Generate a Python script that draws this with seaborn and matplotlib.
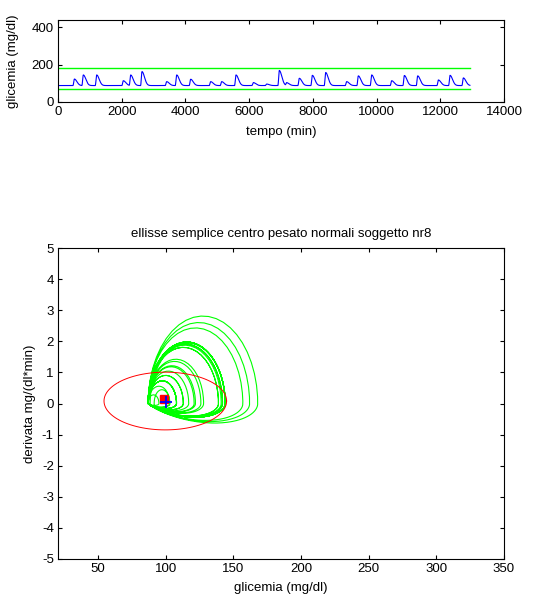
import numpy as np
import pandas as pd
import matplotlib
matplotlib.use("Agg")
import matplotlib.pyplot as plt
import seaborn as sns

# Meal excursions of subject nr8: time of each glucose peak (min) and peak value (mg/dl)
peak_time = [515, 795, 1214, 2050, 2281, 2637, 3411, 3725, 4164, 4792, 5137, 5587,
             6131, 6550, 6947, 7178, 7575, 7983, 8402, 9061, 9427, 9846, 10474,
             10872, 11291, 11940, 12306, 12724]
peak_glucose = [122, 144, 144, 113, 144, 162, 108, 144, 121, 108, 108, 144,
                103, 95, 168, 103, 126, 142, 157, 108, 139, 144, 113,
                141, 139, 117, 142, 128]
basal_glucose = 87          # mg/dl between meals
rise_time = 45              # min from onset to peak
decay_time = 78             # min, post-peak decay scale
sample_step = 2             # min
record_end = 12930          # min

# Normoglycaemic band
hypo_limit = 70
hyper_limit = 180

# Simple ellipse and its centres in the (glucose, derivative) plane
ellipse_center = (99.7, 0.08)
ellipse_semi_axes = (45.3, 0.93)
weighted_center = (98.5, 0.14)
mean_point = (100.4, 0.05)


def excursion(dt):
    """Unit-height meal response; dt = time relative to the peak."""
    out = np.zeros_like(dt, dtype=float)
    rising = (dt > -rise_time) & (dt <= 0)
    out[rising] = np.sin(0.5 * np.pi * (dt[rising] + rise_time) / rise_time) ** 2
    falling = dt > 0
    out[falling] = np.exp(-0.5 * (dt[falling] / decay_time) ** 2)
    return out


t = np.arange(0, record_end + sample_step, sample_step, dtype=float)
glucose = np.full_like(t, basal_glucose)
for tp, gp in zip(peak_time, peak_glucose):
    level = np.interp(tp, t, glucose)
    glucose = glucose + (gp - level) * excursion(t - tp)
derivative = np.gradient(glucose, t)

series = pd.DataFrame({"tempo": t, "glicemia": glucose, "derivata": derivative})

theta = np.linspace(0, 2 * np.pi, 120)
ellipse = pd.DataFrame({
    "x": ellipse_center[0] + ellipse_semi_axes[0] * np.cos(theta),
    "y": ellipse_center[1] + ellipse_semi_axes[1] * np.sin(theta),
})

plt.rcParams["font.family"] = ["Liberation Sans", "DejaVu Sans"]
plt.rcParams["font.size"] = 9.5
plt.rcParams["axes.unicode_minus"] = False

W, H = 548, 594
fig = plt.figure(figsize=(W / 100, H / 100), dpi=100)
left, right = 58 / W, 504 / W
ax1 = fig.add_axes([left, 1 - 101.7 / H, right - left, (101.7 - 20) / H])
ax2 = fig.add_axes([left, 1 - 558.7 / H, right - left, (558.7 - 248.3) / H])

# --- glucose time series ---
band = pd.DataFrame({"tempo": [0, record_end]})
sns.lineplot(x=band["tempo"], y=[hyper_limit, hyper_limit], ax=ax1, color=(0, 1, 0), lw=1)
sns.lineplot(x=band["tempo"], y=[hypo_limit, hypo_limit], ax=ax1, color=(0, 1, 0), lw=1)
sns.lineplot(data=series, x="tempo", y="glicemia", ax=ax1, color=(0, 0, 1), lw=0.8,
             estimator=None, sort=False)
ax1.set_xlim(0, 14000)
ax1.set_ylim(0, 440)
ax1.set_xticks(np.arange(0, 14001, 2000))
ax1.set_yticks([0, 200, 400])
ax1.set_xlabel("tempo (min)", labelpad=6)
ax1.set_ylabel("glicemia (mg/dl)", labelpad=9)

# --- phase plane ---
sns.lineplot(data=series, x="glicemia", y="derivata", ax=ax2, color=(0, 1, 0), lw=0.8,
             estimator=None, sort=False)
sns.lineplot(data=ellipse, x="x", y="y", ax=ax2, color=(1, 0, 0), lw=0.7,
             estimator=None, sort=False)
ax2.plot([weighted_center[0]], [weighted_center[1]], marker="s", ms=6, color=(1, 0, 0),
         ls="none")
ax2.plot([mean_point[0]], [mean_point[1]], marker="+", ms=8, mew=1.3, color=(0, 0, 1),
         ls="none")
ax2.set_xlim(20.4, 350)
ax2.set_ylim(-5, 5)
ax2.set_xticks(np.arange(50, 351, 50))
ax2.set_yticks(np.arange(-5, 6, 1))
ax2.set_xlabel("glicemia (mg/dl)", labelpad=5)
ax2.set_ylabel("derivata mg/(dl*min)", labelpad=4)
ax2.set_title("ellisse semplice centro pesato normali soggetto nr8", fontsize=9.5, pad=8)

for ax in (ax1, ax2):
    ax.tick_params(direction="in", top=True, right=True, length=3, width=0.8,
                   labelsize=9.5, pad=3, colors="black")
    for s in ax.spines.values():
        s.set_linewidth(0.8)
        s.set_color("black")

fig.savefig("out.png", dpi=100)
